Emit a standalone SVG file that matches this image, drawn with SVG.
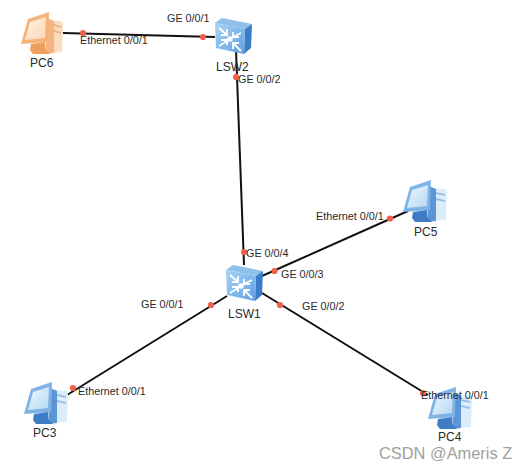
<svg xmlns="http://www.w3.org/2000/svg" width="528" height="468" viewBox="0 0 528 468">
<style>
text{font-family:"Liberation Sans",Arial,sans-serif;fill:#2a2a2a}
.p{font-size:10.8px}
.n{font-size:12px}
.l{stroke:#111;stroke-width:2;fill:none}
.d{fill:#f2604c}
.wm{font-size:16.4px;fill:#a0a0a0}
</style>
<defs>
<linearGradient id="sw" x1="0" y1="0" x2="1" y2="1"><stop offset="0" stop-color="#a9d3f4"/><stop offset="1" stop-color="#609fe2"/></linearGradient>
<linearGradient id="scrB" x1="0" y1="0" x2="1" y2="1"><stop offset="0" stop-color="#eef7fd"/><stop offset="1" stop-color="#b5d8f3"/></linearGradient>
<linearGradient id="scrO" x1="0" y1="0" x2="1" y2="1"><stop offset="0" stop-color="#fff3e6"/><stop offset="1" stop-color="#fcd6b4"/></linearGradient>
<g id="pcB">
<path d="M28 8 L42 9 L44 11 L43 40 L28 41 Z" fill="#dcecf9"/>
<path d="M33 12 L42 14 L42 16 L33 14 Z M33 18 L42 20 L42 22 L33 20 Z" fill="#9ac1e3"/>
<path d="M26 6 L33 9 L33 41 L24 42 Z" fill="#5a95d6"/>
<path d="M7 7 L28 0 L27 30 L0 32 Z" fill="#7fb3e6"/>
<path d="M9 10 L25 5 L24 26 L4 28 Z" fill="url(#scrB)"/>
<path d="M10 32 L24 30 L24 37 L29 42 L12 42 L9 38 Z" fill="#3f7cc4"/>
</g>
<g id="pcO">
<path d="M28 8 L40 9 L42 11 L41 40 L28 41 Z" fill="#fbdcc0"/>
<path d="M33 12 L40 14 L40 16 L33 14 Z M33 18 L40 20 L40 22 L33 20 Z" fill="#eeb285"/>
<path d="M26 6 L33 9 L33 41 L24 42 Z" fill="#f4b583"/>
<path d="M7 7 L28 0 L27 30 L0 32 Z" fill="#f7b27a"/>
<path d="M9 10 L25 5 L24 26 L4 28 Z" fill="url(#scrO)"/>
<path d="M10 32 L24 30 L24 37 L29 42 L12 42 L9 38 Z" fill="#ee9e5f"/>
</g>
<g id="swi">
<path d="M0 5 L7 0 L37 6 L30 11 Z" fill="#8fc0ea"/>
<path d="M30 11 L37 6 L36 30 L29 36 Z" fill="#3a7cc8"/>
<path d="M0 5 L30 11 L29 36 L1 30 Z" fill="url(#sw)"/>
<g stroke="#fff" stroke-width="1.8" fill="none">
<path d="M4 10 L12 17 M12 11 V17 H6"/>
<path d="M26 15 L18 19 M18 14 V19 H24"/>
<path d="M4 28 L12 23 M6 22 H12 V27"/>
<path d="M26 33 L18 25 M18 31 V25 H24"/>
</g>
<circle cx="15" cy="21" r="2.8" fill="#fff"/>
</g>
</defs>
<rect width="528" height="468" fill="#fff"/>
<g id="connectors">
<path class="l" d="M63 33 L215 37"/>
<path class="l" d="M236 50 L244 265"/>
<path class="l" d="M262 276 L408 211"/>
<path class="l" d="M227 296 L67 395"/>
<path class="l" d="M262 293 L428 395"/>
<g class="d">
<circle cx="83" cy="33" r="3.1"/><circle cx="203" cy="37" r="3.1"/>
<circle cx="236" cy="77" r="3.1"/><circle cx="244" cy="252" r="3.1"/>
<circle cx="274.500" cy="271" r="3.1"/><circle cx="390" cy="218.500" r="3.1"/>
<circle cx="211" cy="305" r="3.1"/><circle cx="73" cy="388" r="3.1"/>
<circle cx="280" cy="305" r="3.1"/><circle cx="423" cy="393" r="3.1"/>
</g>
</g>
<g id="PC6"><use href="#pcO" x="21" y="12"/><text class="n" x="30" y="67">PC6</text><text class="p" x="80" y="44">Ethernet 0/0/1</text></g>
<g id="LSW2"><use href="#swi" x="215" y="18"/><text class="n" x="216" y="71">LSW2</text><text class="p" x="167" y="22">GE 0/0/1</text><text class="p" x="238" y="83">GE 0/0/2</text></g>
<g id="LSW1"><use href="#swi" x="226" y="265"/><text class="n" x="228" y="318">LSW1</text><text class="p" x="246" y="257">GE 0/0/4</text><text class="p" x="281" y="278">GE 0/0/3</text><text class="p" x="302" y="310">GE 0/0/2</text><text class="p" x="141" y="308">GE 0/0/1</text></g>
<g id="PC5"><use href="#pcB" x="403" y="180"/><text class="n" x="414" y="236">PC5</text><text class="p" x="316" y="220">Ethernet 0/0/1</text></g>
<g id="PC3"><use href="#pcB" x="24" y="382"/><text class="n" x="33" y="437">PC3</text><text class="p" x="78" y="395">Ethernet 0/0/1</text></g>
<g id="PC4"><use href="#pcB" x="428" y="387"/><text class="n" x="438" y="441">PC4</text><text class="p" x="421" y="399">Ethernet 0/0/1</text></g>
<text class="wm" x="379" y="459">CSDN @Ameris Z</text>
</svg>
